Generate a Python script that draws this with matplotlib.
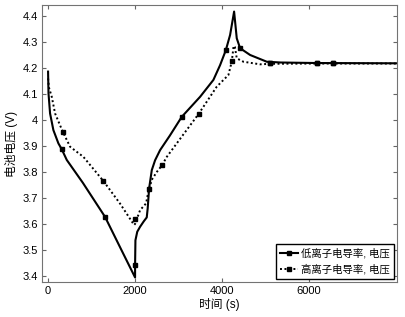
import matplotlib
matplotlib.use("Agg")
import matplotlib.pyplot as plt
from matplotlib.lines import Line2D

plt.rcParams['font.family'] = ['Liberation Sans', 'Noto Sans CJK SC', 'DejaVu Sans']

# low ionic conductivity, voltage (solid)
low_t = [0, 10, 46, 122, 237, 315, 430, 800, 1310, 1700, 2000, 2000, 2008, 2050,
         2115, 2200, 2268, 2290, 2322, 2384, 2460, 2575, 2800, 3073, 3494, 3800,
         3954, 4085, 4184, 4276, 4337, 4414, 4644, 5027, 5350, 6176, 8000]
low_v = [4.186, 4.102, 4.025, 3.961, 3.910, 3.887, 3.846, 3.758, 3.627, 3.495, 3.394,
         3.441, 3.537, 3.570, 3.589, 3.610, 3.625, 3.660, 3.736, 3.807, 3.845, 3.884,
         3.940, 4.012, 4.089, 4.154, 4.211, 4.268, 4.327, 4.417, 4.314, 4.276, 4.250,
         4.224, 4.221, 4.219, 4.218]
low_mark_t = [315, 1310, 2000, 2322, 3073, 4085, 4414, 5103, 6176, 6544]
low_mark_v = [3.887, 3.627, 3.441, 3.736, 4.012, 4.268, 4.276, 4.219, 4.218, 4.218]

# high ionic conductivity, voltage (dotted)
high_t = [0, 20, 85, 161, 337, 506, 812, 1272, 1655, 1977, 2000, 2115, 2253, 2300,
          2384, 2500, 2621, 2729, 3100, 3464, 3877, 4145, 4222, 4265, 4295, 4337,
          4490, 4874, 5103, 6176, 8000]
high_v = [4.160, 4.125, 4.089, 4.025, 3.955, 3.897, 3.858, 3.765, 3.678, 3.596, 3.600,
          3.653, 3.679, 3.720, 3.770, 3.800, 3.826, 3.858, 3.942, 4.024, 4.128, 4.173,
          4.224, 4.285, 4.280, 4.237, 4.224, 4.214, 4.216, 4.217, 4.217]
high_mark_t = [337, 1272, 2000, 2621, 3464, 4222, 5103, 6176, 6544]
high_mark_v = [3.955, 3.765, 3.617, 3.826, 4.024, 4.226, 4.218, 4.218, 4.218]

labels = ['低离子电导率, 电压', '高离子电导率, 电压']
yticks = [3.4, 3.5, 3.6, 3.7, 3.8, 3.9, 4.0, 4.1, 4.2, 4.3, 4.4]
ytick_labels = ['3.4', '3.5', '3.6', '3.7', '3.8', '3.9', '4', '4.1', '4.2', '4.3', '4.4']
xticks = [0, 2000, 4000, 6000]

dotted = (0, (1, 1.3))

fig = plt.figure(figsize=(4.06, 3.17), dpi=100)
ax = fig.add_axes([0.1034, 0.110, 0.8744, 0.874])

ax.plot(low_t, low_v, color='k', ls='-', lw=1.5)
ax.plot(low_mark_t, low_mark_v, color='k', ls='none', marker='s', ms=3.3)
ax.plot(high_t, high_v, color='k', ls=dotted, lw=1.4)
ax.plot(high_mark_t, high_mark_v, color='k', ls='none', marker='s', ms=3.3)

ax.set_xlim(-140, 8020)
ax.set_ylim(3.376, 4.442)
ax.set_xticks(xticks)
ax.set_yticks(yticks)
ax.set_yticklabels(ytick_labels)
ax.tick_params(direction='in', top=True, right=True, length=3, labelsize=8,
               color='0.4', pad=3)
for s in ax.spines.values():
    s.set_color('0.45')
    s.set_linewidth(0.8)

ax.set_xlabel('时间 (s)', fontsize=8.5, labelpad=1)
ax.set_ylabel('电池电压 (V)', fontsize=8.5, labelpad=3)

handles = [Line2D([], [], color='k', ls='-', lw=1.5, marker='s', ms=3.3),
           Line2D([], [], color='k', ls=dotted, lw=1.4, marker='s', ms=3.3)]
leg = ax.legend(handles, labels, loc='lower right', fontsize=7.5, fancybox=False,
                framealpha=1, edgecolor='k', borderaxespad=0.3, handlelength=1.7,
                handletextpad=0.3, borderpad=0.4, labelspacing=0.55)
leg.get_frame().set_linewidth(1.0)

fig.savefig('out.png', dpi=100)
